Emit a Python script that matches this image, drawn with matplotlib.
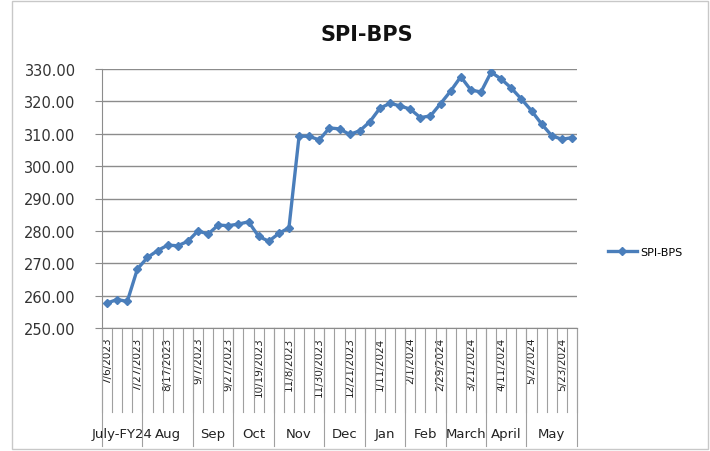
import matplotlib.pyplot as plt
from matplotlib.lines import Line2D

dates = ["7/6/2023", "7/13/2023", "7/20/2023", "7/27/2023",
         "8/3/2023", "8/10/2023", "8/17/2023", "8/24/2023", "8/31/2023",
         "9/7/2023", "9/14/2023", "9/21/2023", "9/27/2023",
         "10/5/2023", "10/12/2023", "10/19/2023", "10/26/2023",
         "11/2/2023", "11/8/2023", "11/16/2023", "11/23/2023", "11/30/2023",
         "12/7/2023", "12/14/2023", "12/21/2023", "12/28/2023",
         "1/4/2024", "1/11/2024", "1/18/2024", "1/25/2024",
         "2/1/2024", "2/8/2024", "2/15/2024", "2/29/2024",
         "3/7/2024", "3/14/2024", "3/21/2024", "3/28/2024",
         "4/4/2024", "4/11/2024", "4/18/2024", "4/25/2024",
         "5/2/2024", "5/9/2024", "5/16/2024", "5/23/2024", "5/30/2024"]

spi_bps = [257.7, 258.8, 258.2, 268.2, 271.8, 273.9, 275.6, 275.4, 276.8,
           280.0, 279.0, 281.8, 281.6, 282.1, 282.8, 278.3, 276.8,
           279.2, 281.0, 309.3, 309.2, 308.1, 311.8, 311.5, 309.8, 310.9,
           313.7, 317.9, 319.4, 318.6, 317.6, 315.0, 315.5, 319.3,
           323.2, 327.6, 323.5, 322.9, 329.0, 326.9, 324.1, 320.7,
           317.1, 313.0, 309.4, 308.3, 308.8]

months = ["July-FY24", "Aug", "Sep", "Oct", "Nov", "Dec", "Jan", "Feb",
          "March", "April", "May"]
month_counts = [4, 5, 4, 4, 5, 4, 4, 4, 4, 4, 5]

blue = "#4a7ebb"
grid_col = "#8c8c8c"

fig = plt.figure(figsize=(7.1, 4.52), dpi=100)
# chart-area frame
fig.patches.append(plt.Rectangle((12 / 710, 2 / 452), 696 / 710, 448 / 452,
                                 transform=fig.transFigure, fill=False,
                                 edgecolor="#c8c8c8", linewidth=1))

ax = fig.add_axes([102 / 710, 1 - 329 / 452, 475 / 710, 259 / 452])
n = len(dates)
x = list(range(n))
ax.plot(x, spi_bps, color=blue, linewidth=2.4, marker="D", markersize=4.5,
        markerfacecolor=blue, markeredgecolor=blue, zorder=3)

ax.set_xlim(-0.5, n - 0.5)
ax.set_ylim(250, 330)
ax.set_yticks(range(250, 331, 10))
ax.set_yticklabels([f"{v:.2f}" for v in range(250, 331, 10)], fontsize=10.5,
                   color="#333333")
ax.yaxis.grid(True, color=grid_col, linewidth=1)
ax.set_axisbelow(True)
for s in ["top", "right"]:
    ax.spines[s].set_visible(False)
ax.spines["left"].set_color(grid_col)
ax.spines["bottom"].set_color(grid_col)
ax.tick_params(axis="y", length=5, color=grid_col, pad=14)
ax.tick_params(axis="x", length=0)

# date labels every 3rd category
ax.set_xticks(x[::3])
ax.set_xticklabels(dates[::3], rotation=90, fontsize=7.5, color="#222222",
                   va="top", ha="center")
ax.tick_params(axis="x", pad=6)

# category separator lines in the label area
trans = ax.get_xaxis_transform()
h = 259
for k in range(n + 1):
    ax.plot([k - 0.5, k - 0.5], [0, -84 / h], transform=trans, color="#a0a0a0",
            linewidth=0.8, clip_on=False)

# month group labels and longer separators
start = 0
for m, c in zip(months, month_counts):
    ax.plot([start - 0.5, start - 0.5], [0, -118 / h], transform=trans,
            color="#a0a0a0", linewidth=0.8, clip_on=False)
    ax.text(start + c / 2 - 0.5, -106 / h, m, transform=trans, ha="center",
            va="center", fontsize=9.5, color="#222222")
    start += c
ax.plot([n - 0.5, n - 0.5], [0, -118 / h], transform=trans, color="#a0a0a0",
        linewidth=0.8, clip_on=False)

fig.text(367 / 710, 1 - 35 / 452, "SPI-BPS", ha="center", va="center",
         fontsize=15, fontweight="bold", color="#111111")

handle = Line2D([], [], color=blue, linewidth=2.4, marker="D", markersize=4.5)
fig.legend([handle], ["SPI-BPS"], loc="center left",
           bbox_to_anchor=(598 / 710, 1 - 253 / 452), frameon=False,
           fontsize=8, handlelength=2.6, handletextpad=0.3)

fig.savefig("out.png", dpi=100)
